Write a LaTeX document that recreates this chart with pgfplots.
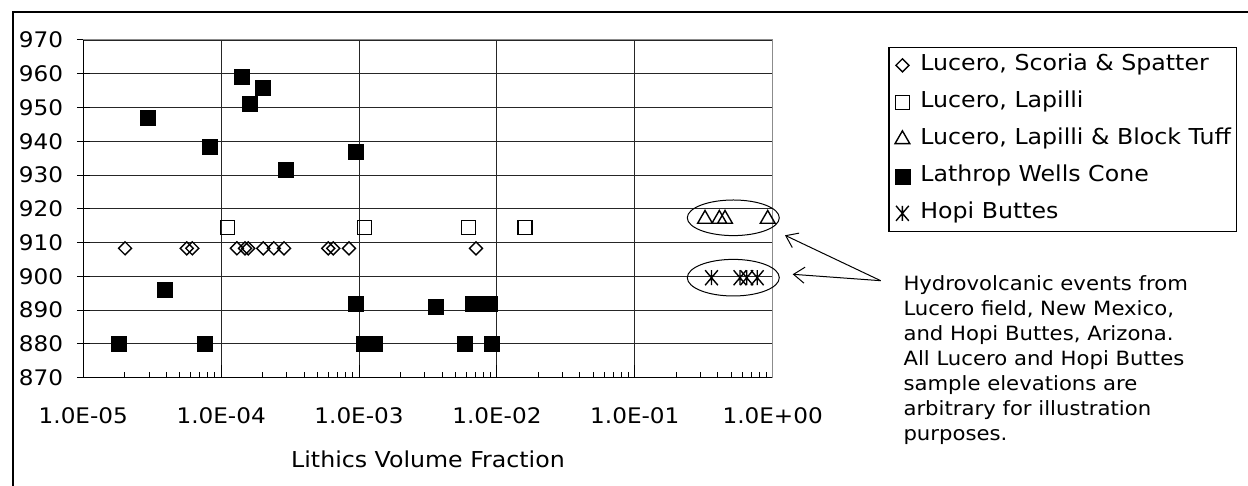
\documentclass[border=0pt]{standalone}
\usepackage{fontspec}
\setmainfont{DejaVu Sans}[FakeStretch=1.08]
\usepackage{pgfplots}
\pgfplotsset{compat=1.18}
\usetikzlibrary{arrows.meta}

\pgfdeclareplotmark{xstar}{%
  \pgfpathmoveto{\pgfqpoint{0pt}{\pgfplotmarksize}}%
  \pgfpathlineto{\pgfqpoint{0pt}{-\pgfplotmarksize}}%
  \pgfpathmoveto{\pgfqpoint{-0.85\pgfplotmarksize}{\pgfplotmarksize}}%
  \pgfpathlineto{\pgfqpoint{0.85\pgfplotmarksize}{-\pgfplotmarksize}}%
  \pgfpathmoveto{\pgfqpoint{-0.85\pgfplotmarksize}{-\pgfplotmarksize}}%
  \pgfpathlineto{\pgfqpoint{0.85\pgfplotmarksize}{\pgfplotmarksize}}%
  \pgfusepathqstroke}

\begin{document}
\begin{tikzpicture}[x=1bp,y=1bp]
\useasboundingbox (0,0) rectangle (1248,486);
\draw[line width=2bp] (12.5,-3) -- (12.5,473.5) -- (1252,473.5);
\begin{axis}[
  at={(83.3bp,108.3bp)}, anchor=south west,
  scale only axis, width=689.4bp, height=337.7bp,
  xmode=log, log basis x=10,
  xmin=1e-5, xmax=1, ymin=870, ymax=970,
  ytick={870,880,...,970},
  xtick={1e-5,1e-4,1e-3,1e-2,1e-1,1},
  xticklabels={1.0E-05,1.0E-04,1.0E-03,1.0E-02,1.0E-01,1.0E+00},
  minor xtick={2e-5,3e-5,4e-5,5e-5,6e-5,7e-5,8e-5,9e-5,
               2e-4,3e-4,4e-4,5e-4,6e-4,7e-4,8e-4,9e-4,
               2e-3,3e-3,4e-3,5e-3,6e-3,7e-3,8e-3,9e-3,
               2e-2,3e-2,4e-2,5e-2,6e-2,7e-2,8e-2,9e-2,
               0.2,0.3,0.4,0.5,0.6,0.7,0.8,0.9},
  axis x line*=bottom, axis y line*=left,
  axis line style={black, line width=1bp, -},
  xtick align=inside, ytick align=center,
  major tick length=13bp, minor tick length=6bp,
  tick style={black, line width=1bp},
  grid=major, major grid style={black!85, line width=0.9bp},
  minor grid style={draw=none},
  /pgf/number format/assume math mode=true,
  tick label style={font=\fontsize{21.5}{21.5}\selectfont, inner sep=0pt},
  xticklabel style={anchor=base, yshift=-45.6bp},
  yticklabel style={anchor=east, xshift=-13.5bp},
  xlabel={Lithics Volume Fraction},
  xlabel style={at={(axis description cs:0.5,0)}, anchor=base, yshift=-90.2bp, font=\fontsize{22}{22}\selectfont, inner sep=0pt},
  clip=false,
  legend style={at={(axis description cs:1.1677,0.980)}, anchor=north west,
    draw=black, line width=1.2bp, fill=white,
    font=\fontsize{22}{22}\selectfont,
    inner xsep=6bp, inner ysep=7.5bp, row sep=16.0bp,
    nodes={inner sep=0pt, text height=16bp, text depth=5bp}},
  legend cell align=left,
  legend image code/.code={\draw[#1] plot coordinates {(0bp,0bp)}; \path[draw=none,fill=none] (-7bp,0bp) (18bp,0bp);},
]
\addplot[only marks, black, mark=square, mark size=4.6bp, mark options={rotate=45, line width=1.4bp}] coordinates {
(2.01e-5,908.3) (5.62e-5,908.3) (6.18e-5,908.3) (1.30e-4,908.3) (1.49e-4,908.3)
(1.57e-4,908.3) (2.02e-4,908.3) (2.41e-4,908.3) (2.86e-4,908.3) (5.98e-4,908.3)
(6.50e-4,908.3) (8.45e-4,908.3) (7.05e-3,908.3)};
\addlegendentry{Lucero, Scoria \& Spatter}
\addplot[only marks, black, mark=square, mark size=7bp, mark options={line width=1.4bp}] coordinates {
(1.11e-4,914.4) (1.10e-3,914.4) (6.2e-3,914.4) (1.6e-2,914.4)};
\addlegendentry{Lucero, Lapilli}
\addplot[only marks, black, mark=triangle, mark size=8.5bp, mark options={line width=1.4bp}] coordinates {
(0.323,917) (0.41,917) (0.451,917) (0.92,917)};
\addlegendentry{Lucero, Lapilli \& Block Tuff}
\addplot[only marks, black, mark=square*, mark size=7.5bp, mark options={line width=0.5bp}] coordinates {
(2.91e-5,947) (8.3e-5,938.5) (1.41e-4,959) (2.01e-4,956) (1.60e-4,951)
(2.92e-4,931.5) (9.46e-4,937) (3.92e-5,896) (1.82e-5,880) (7.55e-5,880)
(9.4e-4,892) (1.09e-3,880) (1.31e-3,880) (3.61e-3,891) (6.7e-3,892)
(7.7e-3,892) (8.8e-3,892) (5.86e-3,880) (9.16e-3,880)};
\addlegendentry{Lathrop Wells Cone}
\addplot[only marks, black, mark=xstar, mark size=7.5bp, mark options={line width=1.4bp}] coordinates {
(0.36,899.6) (0.579,899.6) (0.648,899.6) (0.773,899.6)};
\addlegendentry{Hopi Buttes}
\draw[gray!90, line width=1bp] (rel axis cs:0,1) -- (rel axis cs:1,1) -- (rel axis cs:1,0);
\end{axis}
\draw[line width=1bp] (733.3,268.2) ellipse [x radius=46, y radius=17.8];
\draw[line width=1bp] (733.3,208.3) ellipse [x radius=46, y radius=18.3];
\draw[line width=1bp, -{Straight Barb[length=11bp,width=16bp]}] (880.7,205.3) -- (785,250.7);
\draw[line width=1bp, -{Straight Barb[length=11bp,width=16bp]}] (880.7,205.3) -- (792.7,211.7);
\node[anchor=north west, align=left, inner sep=0pt, font=\fontsize{19.7}{25}\selectfont] at (903.3,210.5)
{Hydrovolcanic events from\\Lucero field, New Mexico,\\and Hopi Buttes, Arizona.\\All Lucero and Hopi Buttes\\sample elevations are\\arbitrary for illustration\\purposes.};
\end{tikzpicture}
\end{document}
